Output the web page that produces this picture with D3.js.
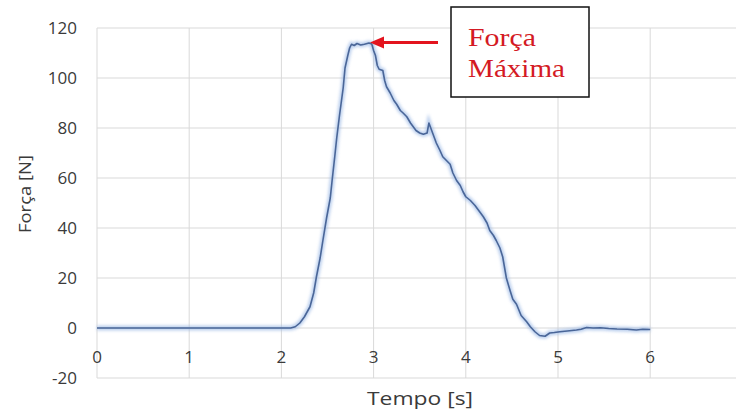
<!DOCTYPE html>
<html>
<head>
<meta charset="utf-8">
<script src="https://cdn.jsdelivr.net/npm/d3@7"></script>
<style>
  body { margin: 0; background: #fff; }
  text { font-family: "Open Sans", "DejaVu Sans", sans-serif; }
</style>
</head>
<body>
<div id="chart"></div>
<script>
// tempo [s] and força [N]
const tempo = [0, 2.1, 2.15, 2.2, 2.25, 2.31, 2.35, 2.38, 2.42, 2.45, 2.49, 2.53, 2.55, 2.58, 2.6, 2.63,
  2.67, 2.69, 2.72, 2.74, 2.76, 2.79, 2.82, 2.86, 2.9, 2.95, 2.98, 3.0, 3.02, 3.04, 3.06, 3.1, 3.12,
  3.14, 3.18, 3.22, 3.25, 3.29, 3.32, 3.36, 3.4, 3.43, 3.46, 3.5, 3.54, 3.58, 3.6, 3.62, 3.64, 3.66,
  3.68, 3.72, 3.75, 3.79, 3.83, 3.86, 3.9, 3.94, 3.97, 4.0, 4.05, 4.1, 4.14, 4.19, 4.23, 4.26, 4.3,
  4.33, 4.37, 4.4, 4.44, 4.48, 4.51, 4.55, 4.6, 4.66, 4.7, 4.75, 4.8, 4.86, 4.91, 4.96, 5.02, 5.1,
  5.2, 5.25, 5.31, 5.38, 5.46, 5.55, 5.64, 5.75, 5.85, 5.92, 6.0];
const forca = [0, 0, 0.5, 2, 4.5, 8.5, 14, 20.5, 28, 35, 44, 52, 59, 69, 76, 85,
  96, 104, 109, 112, 113.5, 113, 113.8, 113.2, 113.5, 114, 113.6, 111, 109, 105, 103.5, 103, 99,
  96.5, 94, 91, 89.5, 87, 86, 84.5, 82, 80.5, 79, 78, 77.5, 78, 82, 80, 78, 76,
  74, 71, 68.5, 67, 65.5, 62, 59, 57, 54.5, 52.5, 51, 49, 47, 44.5, 42, 39, 37,
  35, 32, 28.5, 20, 15, 11.5, 9.5, 5, 2.5, 0.5, -1.5, -3, -3.3, -2, -1.8, -1.5, -1.2,
  -0.8, -0.5, 0.2, 0, 0.1, -0.2, -0.4, -0.5, -0.8, -0.5, -0.6];

const xTicks = [0, 1, 2, 3, 4, 5, 6, 7];
const yTicks = [-20, 0, 20, 40, 60, 80, 100, 120];
const annotLines = ["Força", "Máxima"];

const W = 736, H = 412;
const margin = { top: 28, left: 97 };

const svg = d3.select("#chart").append("svg")
    .attr("width", W)
    .attr("height", H)
    .style("display", "block");

svg.append("rect").attr("width", W).attr("height", H).attr("fill", "#fff");

const x = d3.scaleLinear().domain([0, 7]).range([margin.left, margin.left + 7 * 92.2]);
const y = d3.scaleLinear().domain([-20, 120]).range([378, margin.top]);

// gridlines
svg.append("g").selectAll("line")
    .data(yTicks)
    .enter().append("line")
    .attr("x1", x(0)).attr("x2", x(7))
    .attr("y1", d => y(d)).attr("y2", d => y(d))
    .attr("stroke", "#d9d9d9").attr("stroke-width", 1);

svg.append("g").selectAll("line")
    .data(xTicks)
    .enter().append("line")
    .attr("x1", d => x(d)).attr("x2", d => x(d))
    .attr("y1", y(120)).attr("y2", y(-20))
    .attr("stroke", "#d9d9d9").attr("stroke-width", 1);

// y tick labels
svg.append("g").selectAll("text")
    .data(yTicks)
    .enter().append("text")
    .attr("x", 77)
    .attr("y", d => y(d))
    .attr("dy", "0.35em")
    .attr("text-anchor", "end")
    .style("font-size", "17px")
    .style("fill", "#3a3a3a")
    .text(d => d);

// x tick labels sit under the zero line
svg.append("g").selectAll("text")
    .data(xTicks.filter(d => d <= 6))
    .enter().append("text")
    .attr("x", d => x(d))
    .attr("y", y(0) + 35)
    .attr("text-anchor", "middle")
    .style("font-size", "17px")
    .style("fill", "#3a3a3a")
    .text(d => d);

// axis titles
svg.append("text")
    .attr("transform", "translate(31,194) rotate(-90)")
    .attr("text-anchor", "middle")
    .attr("textLength", 78)
    .attr("lengthAdjust", "spacingAndGlyphs")
    .style("font-size", "17px")
    .style("fill", "#3a3a3a")
    .text("Força [N]");

svg.append("text")
    .attr("x", 420)
    .attr("y", 405)
    .attr("text-anchor", "middle")
    .attr("textLength", 106)
    .attr("lengthAdjust", "spacingAndGlyphs")
    .style("font-size", "19px")
    .style("fill", "#3a3a3a")
    .text("Tempo [s]");

// the force curve, with a soft glow underneath
const pts = tempo.map((t, i) => [t, forca[i]]);
const line = d3.line().x(d => x(d[0])).y(d => y(d[1]));

const defs = svg.append("defs");
defs.append("filter").attr("id", "glow")
    .attr("x", "-10%").attr("y", "-10%").attr("width", "120%").attr("height", "120%")
  .append("feGaussianBlur").attr("stdDeviation", 1.6);

svg.append("path")
    .datum(pts)
    .attr("d", line)
    .attr("fill", "none")
    .attr("stroke", "#9fbbe6")
    .attr("stroke-width", 5)
    .attr("opacity", 0.7)
    .attr("filter", "url(#glow)");

svg.append("path")
    .datum(pts)
    .attr("d", line)
    .attr("fill", "none")
    .attr("stroke", "#4a6698")
    .attr("stroke-width", 1.6)
    .attr("stroke-linejoin", "round");

// annotation: arrow to the peak + boxed label
const iMax = d3.maxIndex(forca);
const tipX = x(tempo[iMax]) + 1, tipY = y(forca[iMax]) - 0.5;

svg.append("line")
    .attr("x1", 438).attr("y1", tipY)
    .attr("x2", tipX + 12).attr("y2", tipY)
    .attr("stroke", "#e3141e").attr("stroke-width", 3);

svg.append("path")
    .attr("d", `M${tipX},${tipY} L${tipX + 14},${tipY - 6} L${tipX + 14},${tipY + 6} Z`)
    .attr("fill", "#e3141e");

svg.append("rect")
    .attr("x", 451).attr("y", 7)
    .attr("width", 138).attr("height", 90)
    .attr("fill", "#fff")
    .attr("stroke", "#111")
    .attr("stroke-width", 1.5);

svg.append("g").selectAll("text")
    .data(annotLines)
    .enter().append("text")
    .attr("x", 468)
    .attr("y", (d, i) => 46 + i * 31)
    .attr("textLength", (d, i) => i === 0 ? 68 : 97)
    .attr("lengthAdjust", "spacingAndGlyphs")
    .style("font-family", "'Liberation Serif', 'DejaVu Serif', serif")
    .style("font-size", "25px")
    .style("fill", "#d41a24")
    .text(d => d);
</script>
</body>
</html>
